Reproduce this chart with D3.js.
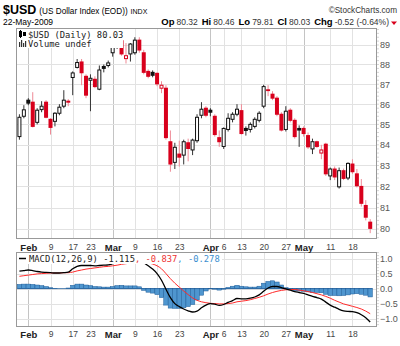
<!DOCTYPE html>
<html><head><meta charset="utf-8">
<script src="https://cdn.jsdelivr.net/npm/d3@7"></script>
<style>
body{margin:0;background:#fff;}
svg{display:block;font-family:"Liberation Sans",Arial,sans-serif;}
</style>
</head><body><svg id="c" width="400" height="346"></svg>
<script>
// ---------- DATA ----------
const dates = ["Jan 29","Jan 30",
 "Feb 2","Feb 3","Feb 4","Feb 5","Feb 6","Feb 9","Feb 10","Feb 11","Feb 12","Feb 13","Feb 17","Feb 18","Feb 19","Feb 20","Feb 23","Feb 24","Feb 25","Feb 26","Feb 27",
 "Mar 2","Mar 3","Mar 4","Mar 5","Mar 6","Mar 9","Mar 10","Mar 11","Mar 12","Mar 13","Mar 16","Mar 17","Mar 18","Mar 19","Mar 20","Mar 23","Mar 24","Mar 25","Mar 26","Mar 27","Mar 30","Mar 31",
 "Apr 1","Apr 2","Apr 3","Apr 6","Apr 7","Apr 8","Apr 9","Apr 13","Apr 14","Apr 15","Apr 16","Apr 17","Apr 20","Apr 21","Apr 22","Apr 23","Apr 24","Apr 27","Apr 28","Apr 29","Apr 30",
 "May 1","May 4","May 5","May 6","May 7","May 8","May 11","May 12","May 13","May 14","May 15","May 18","May 19","May 20","May 21","May 22"];
const openP  = [84.40,85.40,86.20,86.10,85.10,85.73,86.10,85.25,85.15,85.55,85.90,86.15,87.34,87.85,88.13,87.40,87.20,87.25,86.75,87.90,87.95,
 88.60,89.05,89.22,88.30,88.54,88.60,89.25,88.60,87.65,87.60,87.55,86.80,86.80,84.15,83.15,83.55,83.50,84.10,83.75,84.20,85.45,85.80,
 85.70,85.40,84.35,83.92,84.75,85.25,85.50,85.68,84.80,84.75,84.90,85.20,85.90,86.72,86.50,86.30,85.50,84.75,85.70,85.20,84.80,
 84.80,84.45,83.80,84.15,83.60,84.03,82.50,82.83,81.98,82.75,82.40,83.07,82.60,82.00,81.10,80.32];
const highP  = [85.50,85.95,86.30,86.60,85.80,86.15,86.20,85.30,85.60,86.00,86.70,86.25,87.65,88.28,88.28,87.50,87.50,87.40,87.95,88.00,88.20,
 89.10,89.20,89.40,89.10,89.10,89.40,89.40,88.75,87.75,87.70,87.60,87.15,86.95,84.70,84.10,84.20,84.25,84.30,84.30,85.50,86.10,85.90,
 85.80,85.50,84.70,84.85,85.55,85.60,86.00,86.00,84.90,85.10,85.35,85.65,86.97,86.95,86.65,86.40,85.60,85.90,85.80,85.30,84.95,
 84.90,84.60,84.30,84.20,84.00,84.10,82.90,82.95,82.90,82.85,83.15,83.30,82.83,82.35,81.35,80.46];
const lowP   = [84.25,85.30,85.95,84.85,85.00,85.60,85.30,84.50,84.90,85.45,85.80,85.90,86.45,87.80,86.95,86.30,85.65,86.80,86.70,87.60,87.85,
 88.40,88.80,88.45,88.05,88.15,88.50,88.60,87.50,87.30,87.35,86.90,86.55,84.25,82.70,82.83,82.95,83.05,83.20,83.50,84.10,85.30,85.35,
 85.40,84.40,83.90,83.80,84.65,85.10,85.40,84.50,84.45,84.60,84.80,85.10,85.80,86.40,86.20,85.40,84.65,84.65,85.10,84.30,83.90,
 84.40,83.80,83.55,83.85,83.30,82.50,82.30,82.30,81.90,82.30,82.30,82.60,81.95,81.05,80.40,79.81];
const closeP = [85.35,85.72,86.05,84.90,85.70,85.90,85.35,84.85,85.55,85.85,86.20,86.10,87.57,88.10,87.58,86.45,87.30,86.88,87.72,87.80,88.08,
 88.88,88.97,88.54,88.45,89.05,89.25,88.74,87.60,87.40,87.45,87.02,86.95,84.35,83.07,83.88,83.40,84.15,83.82,84.23,85.35,85.75,85.45,
 85.60,84.50,84.15,84.80,85.30,85.50,85.75,84.55,84.70,85.00,85.25,85.55,86.88,86.68,86.30,85.50,84.72,85.65,85.20,84.40,84.72,
 84.55,83.90,84.15,83.92,83.75,82.60,82.83,82.45,82.75,82.38,83.10,82.70,82.03,81.20,80.55,80.03];
const macdLine = [0.58,0.60,0.62,0.60,0.57,0.55,0.54,0.53,0.52,0.52,0.53,0.55,0.66,0.74,0.77,0.77,0.77,0.76,0.77,0.78,0.79,
 0.83,0.88,0.92,0.92,0.94,0.96,0.95,0.86,0.76,0.65,0.50,0.28,-0.02,-0.30,-0.50,-0.60,-0.68,-0.74,-0.78,-0.75,-0.64,-0.55,
 -0.50,-0.52,-0.56,-0.53,-0.46,-0.40,-0.33,-0.34,-0.34,-0.32,-0.28,-0.21,-0.09,0.02,0.07,0.07,0.03,-0.01,-0.05,-0.10,-0.13,
 -0.16,-0.21,-0.26,-0.30,-0.35,-0.45,-0.55,-0.62,-0.69,-0.74,-0.76,-0.77,-0.80,-0.87,-0.97,-1.115];
const signalLine = [0.41,0.43,0.45,0.47,0.49,0.50,0.51,0.52,0.52,0.52,0.53,0.53,0.55,0.59,0.62,0.65,0.67,0.69,0.71,0.73,0.74,
 0.76,0.78,0.81,0.83,0.85,0.87,0.89,0.88,0.86,0.82,0.76,0.66,0.50,0.33,0.18,0.05,-0.08,-0.20,-0.31,-0.39,-0.44,-0.47,
 -0.49,-0.50,-0.51,-0.51,-0.50,-0.48,-0.44,-0.42,-0.40,-0.37,-0.33,-0.29,-0.24,-0.18,-0.13,-0.09,-0.06,-0.04,-0.03,-0.03,-0.05,
 -0.07,-0.10,-0.13,-0.17,-0.21,-0.26,-0.32,-0.39,-0.45,-0.51,-0.55,-0.59,-0.63,-0.68,-0.75,-0.837];
const histBars = [0.14,0.15,0.15,0.14,0.12,0.10,0.07,0.03,0.01,0.00,0.00,0.02,0.11,0.15,0.15,0.12,0.10,0.07,0.06,0.05,0.05,
 0.07,0.10,0.11,0.09,0.09,0.09,0.06,-0.06,-0.12,-0.15,-0.20,-0.30,-0.55,-0.65,-0.66,-0.66,-0.64,-0.60,-0.53,-0.38,-0.22,-0.08,
 -0.01,-0.02,-0.05,-0.02,0.04,0.08,0.11,0.08,0.06,0.05,0.05,0.08,0.18,0.24,0.26,0.22,0.12,0.03,-0.02,-0.07,-0.08,
 -0.09,-0.11,-0.13,-0.13,-0.14,-0.19,-0.23,-0.23,-0.24,-0.23,-0.21,-0.18,-0.17,-0.19,-0.22,-0.278];
const tickDates  = ["Feb 2","Feb 9","Feb 17","Feb 23","Mar 2","Mar 9","Mar 16","Mar 23","Apr 1","Apr 6","Apr 13","Apr 20","Apr 27","May 1","May 11","May 18"];
const tickLabels = ["Feb","9","17","23","Mar","9","16","23","Apr","6","13","20","27","May","11","18"];
const monthLabels = ["Feb","Mar","Apr","May"];
const priceTicks = [80,81,82,83,84,85,86,87,88,89];
const macdTicks = [1.0,0.5,0.0,-0.5,-1.0];

// ---------- LAYOUT ----------
const svg = d3.select("#c");
const X0 = 16, X1 = 377, PT = 28, PB = 239, MT = 252, MB = 327;
const idx = dates.map((d,i)=>i);
const x = d3.scaleLinear().domain([-0.77, 80.53]).range([X0, X1]);
const step = x(1) - x(0);
const yP = d3.scaleLog().domain([79.54, 89.88]).range([PB, PT]);
const yM = d3.scaleLinear().domain([-1.28, 1.22]).range([MB, MT]);
const tickIdx = tickDates.map(d => dates.indexOf(d));
const RED = "#d8001c", REDW = "#ef8a96", BLK = "#111";

// ---------- HEADER ----------
const h1 = svg.append("text").attr("x",3).attr("y",14).attr("fill","#000");
h1.append("tspan").attr("font-weight","bold").attr("font-size",12.5).text("$USD");
h1.append("tspan").attr("font-size",8.2).attr("dx",3).text("(US Dollar Index (EOD))");
h1.append("tspan").attr("font-size",7).attr("dx",3).text("INDX");
svg.append("text").attr("x",397).attr("y",13).attr("text-anchor","end").attr("font-size",8.2).attr("fill","#333").text("\u00A9StockCharts.com");
svg.append("text").attr("x",3).attr("y",25).attr("font-size",8.5).attr("fill","#000").text("22-May-2009");
const h2 = svg.append("text").attr("x",389).attr("y",25).attr("text-anchor","end").attr("font-size",8.5).attr("fill","#000");
[["Op","80.32"],["Hi","80.46"],["Lo","79.81"],["Cl","80.03"],["Chg","-0.52 (-0.64%)"]].forEach((p,k)=>{
  h2.append("tspan").attr("font-weight","bold").attr("font-size",9.5).attr("dx",k?4:0).text(p[0]);
  h2.append("tspan").attr("dx",2).attr("fill","#333").text(p[1]);
});
svg.append("path").attr("d","M391,21.5 L397,21.5 L394,25 Z").attr("fill",RED);

// ---------- PANELS ----------
function panel(top, bottom){
  svg.append("rect").attr("x",X0+0.5).attr("y",top+0.5).attr("width",X1-X0-1).attr("height",bottom-top-1)
    .attr("fill","#fff").attr("stroke","#999");
  const g = svg.append("g");
  g.selectAll("line.v").data(tickIdx).join("line")
    .attr("x1",d=>Math.round(x(d))+0.5).attr("x2",d=>Math.round(x(d))+0.5)
    .attr("y1",top+1).attr("y2",bottom-1)
    .attr("stroke",(d,i)=>monthLabels.includes(tickLabels[i])?"#c4c4c4":"#e2e2e2");
  return g;
}
const gMain = panel(PT, PB);
gMain.selectAll("line.h").data(priceTicks).join("line")
  .attr("x1",X0+1).attr("x2",X1-1)
  .attr("y1",d=>Math.round(yP(d))+0.5).attr("y2",d=>Math.round(yP(d))+0.5)
  .attr("stroke","#e2e2e2");
const gMacd = panel(MT, MB);
gMacd.selectAll("line.h").data(macdTicks).join("line")
  .attr("x1",X0+1).attr("x2",X1-1)
  .attr("y1",d=>Math.round(yM(d))+0.5).attr("y2",d=>Math.round(yM(d))+0.5)
  .attr("stroke","#e2e2e2");

// right-side minor ticks
const minorP = d3.range(79.6, 89.9, 0.2);
svg.append("g").selectAll("line").data(minorP).join("line")
  .attr("x1",X1).attr("x2",X1+2).attr("y1",d=>yP(d)).attr("y2",d=>yP(d)).attr("stroke","#bbb").attr("stroke-width",0.6);
const minorM = d3.range(-1.2, 1.21, 0.1);
svg.append("g").selectAll("line").data(minorM).join("line")
  .attr("x1",X1).attr("x2",X1+2).attr("y1",d=>yM(d)).attr("y2",d=>yM(d)).attr("stroke","#bbb").attr("stroke-width",0.6);

// ---------- CANDLES ----------
const cg = svg.append("g");
idx.forEach(i=>{
  const o=openP[i], h=highP[i], l=lowP[i], c=closeP[i];
  const up = i===0 ? true : c >= closeP[i-1];
  const col = up ? BLK : RED;
  const hollow = c > o;
  const cx = x(i);
  cg.append("line").attr("x1",cx).attr("x2",cx).attr("y1",yP(h)).attr("y2",yP(l))
    .attr("stroke", up ? "#333" : REDW).attr("stroke-width",1);
  const yt = yP(Math.max(o,c)), yb = yP(Math.min(o,c));
  if (hollow){
    cg.append("rect").attr("x",cx-1.5).attr("y",yt).attr("width",3).attr("height",Math.max(1,yb-yt))
      .attr("fill","#fff").attr("stroke",col).attr("stroke-width",1);
  } else {
    cg.append("rect").attr("x",cx-2).attr("y",yt-0.5).attr("width",4).attr("height",Math.max(1.5,yb-yt+1))
      .attr("fill",col);
  }
});

// ---------- MACD ----------
const mg = svg.append("g");
mg.selectAll("rect").data(idx).join("rect")
  .attr("x",i=>x(i)-step/2).attr("width",step)
  .attr("y",i=>Math.min(yM(0),yM(histBars[i]))).attr("height",i=>Math.abs(yM(histBars[i])-yM(0)))
  .attr("fill","#4f96cf").attr("stroke","#1f5e9a").attr("stroke-width",0.5);
mg.append("line").attr("x1",x(-0.5)).attr("x2",x(79.5)).attr("y1",yM(0)).attr("y2",yM(0)).attr("stroke","#1f5e9a").attr("stroke-width",0.8);
const line = arr => d3.line().x(i=>x(i)).y(i=>yM(arr[i])).curve(d3.curveMonotoneX)(idx);
mg.append("path").attr("d",line(signalLine)).attr("fill","none").attr("stroke","#ff2a2a").attr("stroke-width",1);
mg.append("path").attr("d",line(macdLine)).attr("fill","none").attr("stroke","#000").attr("stroke-width",1.3);

// ---------- LEGENDS ----------
const mono = "'DejaVu Sans Mono','Liberation Mono',monospace";
svg.append("rect").attr("x",17).attr("y",29).attr("width",106).attr("height",19).attr("fill","#fff");
// candle icon
svg.append("rect").attr("x",19.5).attr("y",31.5).attr("width",2).attr("height",5).attr("fill","#fff").attr("stroke","#000");
svg.append("line").attr("x1",20.5).attr("x2",20.5).attr("y1",30).attr("y2",38).attr("stroke","#000");
svg.append("rect").attr("x",23).attr("y",32).attr("width",3).attr("height",4).attr("fill","#000");
svg.append("text").attr("x",28).attr("y",38).attr("font-family",mono).attr("font-size",8.8).attr("fill","#222").text("$USD (Daily) 80.03");
[[19,42,5],[21,40,7],[23,43,4],[25,41,6]].forEach(b=>svg.append("rect").attr("x",b[0]).attr("y",b[1]).attr("width",1.2).attr("height",b[2]).attr("fill","#333"));
svg.append("text").attr("x",28).attr("y",47).attr("font-family",mono).attr("font-size",8.8).attr("fill","#222").text("Volume undef");
svg.append("rect").attr("x",17).attr("y",253).attr("width",205).attr("height",11).attr("fill","#fff");
svg.append("line").attr("x1",19).attr("x2",26).attr("y1",258.5).attr("y2",258.5).attr("stroke","#000").attr("stroke-width",1.5);
const ml = svg.append("text").attr("x",29).attr("y",261.5).attr("font-family",mono).attr("font-size",8.8);
ml.append("tspan").attr("fill","#222").text("MACD(12,26,9) -1.115");
ml.append("tspan").attr("fill","#e33").text(", -0.837");
ml.append("tspan").attr("fill","#3b8fd0").text(", -0.278");

// ---------- AXES ----------
function dateAxis(yPos){
  const ax = d3.axisBottom(x).tickValues(tickIdx).tickFormat((d,i)=>tickLabels[i]).tickSize(0).tickPadding(0);
  const g = svg.append("g").attr("transform",`translate(0,${yPos})`).call(ax);
  g.select(".domain").remove();
  g.selectAll("text").attr("font-family","'Liberation Sans',Arial,sans-serif")
    .attr("font-size",9.5).attr("fill","#222")
    .attr("font-weight",(d,i)=>monthLabels.includes(tickLabels[i])?"bold":"normal")
    .attr("dy","0.71em");
  g.selectAll("text").filter((d,i)=>!monthLabels.includes(tickLabels[i])).attr("font-size",8.5).attr("fill","#444");
}
dateAxis(244);
dateAxis(331);
const ay = d3.axisRight(yP).tickValues(priceTicks).tickFormat(d3.format("d")).tickSize(0).tickPadding(3);
const gy = svg.append("g").attr("transform",`translate(${X1},0)`).call(ay);
gy.select(".domain").remove();
gy.selectAll("text").attr("font-size",9).attr("fill","#555").attr("font-family","'Liberation Sans',Arial,sans-serif");
const am = d3.axisRight(yM).tickValues(macdTicks).tickFormat(d3.format(".1f")).tickSize(0).tickPadding(3);
const gm = svg.append("g").attr("transform",`translate(${X1},0)`).call(am);
gm.select(".domain").remove();
gm.selectAll("text").attr("font-size",9).attr("fill","#555").attr("font-family","'Liberation Sans',Arial,sans-serif");
</script>
</body></html>
